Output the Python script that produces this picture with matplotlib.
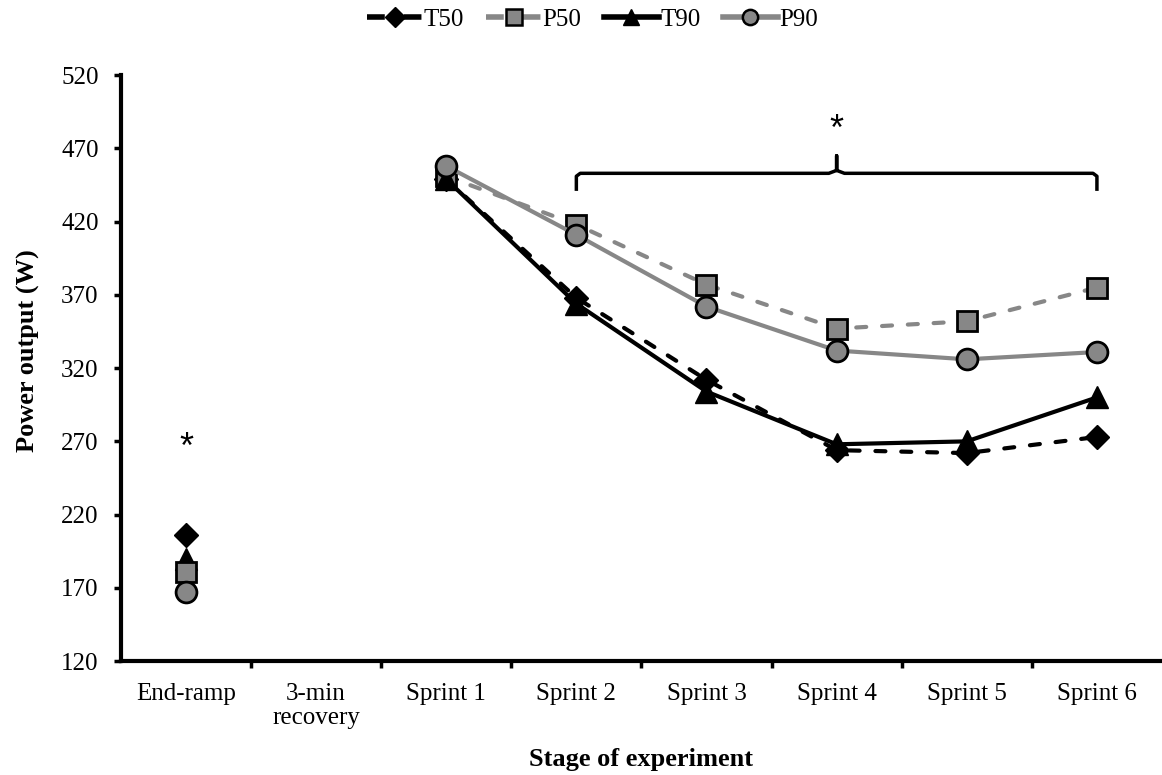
import matplotlib.pyplot as plt
from matplotlib.lines import Line2D

stages = ["End-ramp", "3-min\nrecovery", "Sprint 1", "Sprint 2", "Sprint 3",
          "Sprint 4", "Sprint 5", "Sprint 6"]

# end-ramp values (plotted on their own, no line)
ramp_t50 = 206
ramp_p50 = 181
ramp_t90 = 190
ramp_p90 = 167

# sprint 1..6
t50 = [449, 368, 312, 264, 262, 273]
p50 = [451, 418, 377, 347, 352, 375]
t90 = [449, 364, 304, 268, 270, 300]
p90 = [458, 411, 362, 332, 326, 331]

plt.rcParams['font.family'] = ['Liberation Serif', 'DejaVu Serif']

fig = plt.figure(figsize=(11.62, 7.75), dpi=100)
ax = fig.add_axes([0.104, 0.147, 0.896, 0.756])

sx = list(range(2, 8))
gray = "#878787"
ms = 15
dash = (0, (2.4, 3.8))

ax.plot(sx, t50, color="black", lw=3, ls=dash, dash_capstyle="round",
        marker="D", ms=ms * 0.82, mfc="black", mec="black", zorder=3)
ax.plot(sx, p50, color=gray, lw=3, ls=dash, dash_capstyle="round",
        marker="s", ms=ms, mfc=gray, mec="black", mew=2, zorder=4)
ax.plot(sx, t90, color="black", lw=3, marker="^", ms=ms + 1,
        mfc="black", mec="black", zorder=5)
ax.plot(sx, p90, color=gray, lw=3, marker="o", ms=ms,
        mfc=gray, mec="black", mew=2, zorder=6)

ax.plot([0], [ramp_t50], marker="D", ms=ms * 0.82, color="black", ls="none", zorder=3)
ax.plot([0], [ramp_t90], marker="^", ms=ms + 1, color="black", ls="none", zorder=4)
ax.plot([0], [ramp_p50], marker="s", ms=ms, mfc=gray, mec="black", mew=2, ls="none", zorder=5)
ax.plot([0], [ramp_p90], marker="o", ms=ms, mfc=gray, mec="black", mew=2, ls="none", zorder=6)

# significance marks
ax.text(0, 265, "*", ha="center", va="center", fontsize=26, family="Liberation Sans")
ax.text(5, 482, "*", ha="center", va="center", fontsize=26, family="Liberation Sans")

# brace from Sprint 2 to Sprint 6
by = 453
ax.plot([3, 3, 3.03, 4.94, 5, 5, 5, 5.06, 6.97, 7, 7],
        [441, by - 2, by, by, by + 2, 465, by + 2, by, by, by - 2, 441],
        color="black", lw=2.5, solid_capstyle="butt", solid_joinstyle="round", zorder=2)

ax.set_xlim(-0.5, 7.5)
ax.set_ylim(120, 520)
ax.set_yticks(range(120, 521, 50))
ax.set_xticks(range(8))
ax.set_xticklabels(stages, fontsize=18, linespacing=1.1)
ax.set_xticks([i + 0.5 for i in range(7)], minor=True)
ax.tick_params(axis="x", which="major", length=0, pad=16)
ax.tick_params(axis="x", which="minor", length=5, width=2.5, direction="out")
ax.tick_params(axis="y", labelsize=18, length=5, width=2.5, direction="out", pad=11)

for s in ["top", "right"]:
    ax.spines[s].set_visible(False)
for s in ["left", "bottom"]:
    ax.spines[s].set_linewidth(3)

ax.set_ylabel("Power output (W)", fontsize=19, fontweight="bold")
ax.yaxis.set_label_coords(-0.078, 0.53)
ax.set_xlabel("Stage of experiment", fontsize=19, fontweight="bold")
ax.xaxis.set_label_coords(0.5, -0.148)

# legend handles: dash - marker - dash for the dashed series
leg_dash = (0, (3.2, 3.4))
handles = [
    Line2D([], [], color="black", lw=4, ls=leg_dash, marker="D", ms=10,
           mfc="black", mec="black"),
    Line2D([], [], color=gray, lw=4, ls=leg_dash, marker="s", ms=11,
           mfc=gray, mec="black", mew=1.8),
    Line2D([], [], color="black", lw=4, marker="^", ms=12, mfc="black", mec="black"),
    Line2D([], [], color=gray, lw=4, marker="o", ms=11, mfc=gray, mec="black", mew=1.8),
]
fig.legend(handles, ["T50", "P50", "T90", "P90"], loc="upper center",
           bbox_to_anchor=(0.51, 1.018), ncol=4, frameon=False,
           fontsize=18, handlelength=2.2, columnspacing=0.9, handletextpad=0.05)

fig.savefig("out.png", dpi=100)
